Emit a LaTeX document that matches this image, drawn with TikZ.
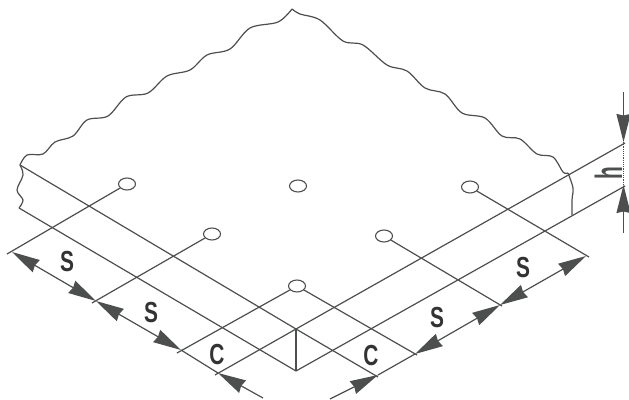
\documentclass[tikz,border=0pt]{standalone}
\usepackage{fontspec}
\setmainfont{Liberation Sans}
\usepackage{xcolor}
\usetikzlibrary{arrows.meta, shapes.geometric}
\definecolor{inkgray}{HTML}{4D4F4F}
\tikzset{hole/.style={draw=inkgray,ellipse,fill=white,minimum width=17pt,minimum height=12pt,inner sep=0pt,line width=1.1pt},
         edge/.style={draw=inkgray,line width=1.2pt},
         wavy/.style={draw=inkgray,line width=1.2pt,smooth,tension=0.55},
         dimarrow/.style={draw=inkgray,line width=1.2pt,-{Stealth[length=28pt,width=14pt,inset=1.5pt,inkgray]}},
         dimboth/.style={draw=inkgray,line width=1.2pt,{Stealth[length=28pt,width=14pt,inset=1.5pt,inkgray]}-{Stealth[length=28pt,width=14pt,inset=1.5pt,inkgray]}},
         dimtext/.style={text=black!80,font=\fontsize{29}{29}\selectfont\bfseries,xscale=0.72,inner sep=0pt},
         dimrot/.style={text=inkgray,font=\fontsize{38}{38}\selectfont\bfseries,yscale=0.55,rotate=90,inner sep=0pt,anchor=base}}

\begin{document}
\begin{tikzpicture}[x=1pt,y=-1pt]
    \useasboundingbox (0,0) rectangle (629,399);
    % Slab corners
    \coordinate (backleft) at (20,165);
    \coordinate (lowleft) at (19,208);
    \coordinate (fronttop) at (296,329);
    \coordinate (frontlow) at (296,371);
    \coordinate (righttop) at (568,173);
    \coordinate (rightlow) at (572,215);
    \coordinate (hightop) at (625,143);
    \coordinate (highlow) at (625,186);
    % Holes
    \node (hole1) [hole] at (127,184) {};
    \node (hole2) [hole] at (298,186) {};
    \node (hole3) [hole] at (470,187) {};
    \node (hole4) [hole] at (212,234) {};
    \node (hole5) [hole] at (384,236) {};
    \node (hole6) [hole] at (297,286) {};
    % Feet of the extension lines
    \coordinate (foot1) at (7,254);
    \coordinate (foot2) at (92,303);
    \coordinate (foot3) at (177,353);
    \coordinate (foot4) at (215,375);
    \coordinate (foot5) at (378,377);
    \coordinate (foot6) at (417,355);
    \coordinate (foot7) at (502,306);
    \coordinate (foot8) at (589,257);
    % Points on the dimension lines
    \coordinate (dimA) at (12,252);
    \coordinate (dimB) at (96,301);
    \coordinate (dimC) at (181,350);
    \coordinate (dimD) at (218,373);
    \coordinate (dimE) at (263,398);
    \coordinate (dimF) at (330,399);
    \coordinate (dimG) at (378,375);
    \coordinate (dimH) at (415,354);
    \coordinate (dimI) at (500,305);
    \coordinate (dimJ) at (586,256);
    \coordinate (dimK) at (623.5,92);
    \coordinate (dimL) at (623.5,142);
    \coordinate (dimM) at (623.5,185);
    \coordinate (dimN) at (623.5,233);
    % Wavy broken edges
    \draw[wavy] plot coordinates {(20,165) (27,155) (43,154) (55,142) (73,136) (87,120) (108,116) (126,97) (148,93) (167,76) (190,70) (207,55) (230,49) (250,28) (278,22) (292,9)};
    \draw[wavy] plot coordinates {(292,9) (300,14) (320,20) (343,41) (363,45) (387,65) (407,71) (425,88) (445,94) (462,113) (485,118) (502,136) (520,139) (537,154) (553,157) (563,172) (568,173)};
    \draw[wavy] plot coordinates {(20,165) (23,175) (17,190) (23,200) (19,208)};
    \draw[wavy] plot coordinates {(568,173) (573,188) (572,200) (572,215)};
    % Slab edges
    \draw[edge] (backleft) -- (fronttop);
    \draw[edge] (lowleft) -- (frontlow);
    \draw[edge] (fronttop) -- (hightop);
    \draw[edge] (frontlow) -- (highlow);
    \draw[edge] (fronttop) -- (frontlow);
    % Extension lines
    \draw[edge] (hole1) -- (foot1);
    \draw[edge] (hole4) -- (foot2);
    \draw[edge] (hole6) -- (foot3);
    \draw[edge] (fronttop) -- (foot4);
    \draw[edge] (fronttop) -- (foot5);
    \draw[edge] (hole6) -- (foot6);
    \draw[edge] (hole5) -- (foot7);
    \draw[edge] (hole3) -- (foot8);
    % Dimension lines
    \draw[dimboth] (dimA) -- (dimB);
    \draw[dimboth] (dimB) -- (dimC);
    \draw[edge] (dimC) -- (dimD);
    \draw[dimarrow] (dimE) -- (dimD);
    \draw[dimarrow] (dimF) -- (dimG);
    \draw[edge] (dimG) -- (dimH);
    \draw[dimboth] (dimH) -- (dimI);
    \draw[dimboth] (dimI) -- (dimJ);
    \draw[dimarrow] (dimK) -- (dimL);
    \draw[dimarrow] (dimN) -- (dimM);
    \draw[edge,densely dotted] (dimL) -- (dimM);
    % Labels
    \node (labelS1) [dimtext] at (67,262) {S};
    \node (labelS2) [dimtext] at (151,313) {S};
    \node (labelC1) [dimtext] at (217,355) {C};
    \node (labelC2) [dimtext] at (371,356) {C};
    \node (labelS3) [dimtext] at (437,318) {S};
    \node (labelS4) [dimtext] at (523,268) {S};
    \node (labelh) [dimrot] at (622,173) {h};
\end{tikzpicture}
\end{document}
